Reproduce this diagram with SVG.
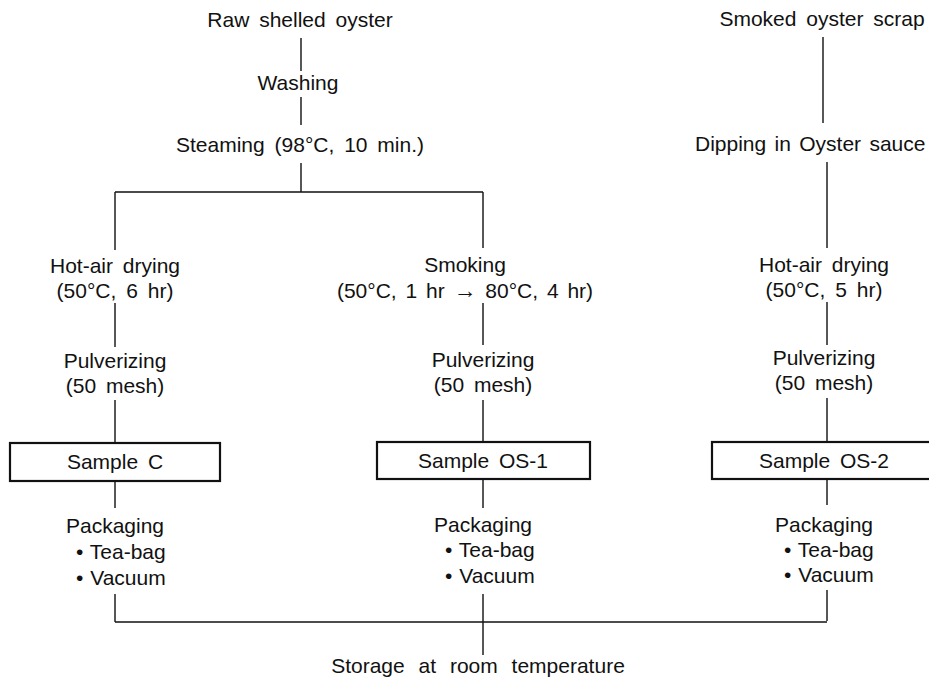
<svg xmlns="http://www.w3.org/2000/svg" width="929" height="679" viewBox="0 0 929 679">
<style>
text{font-family:"Liberation Sans",Arial,sans-serif;font-size:21px;fill:#111;word-spacing:4px}
.c{text-anchor:middle}
.b{word-spacing:1px}
.box{fill:#fff;stroke:#111;stroke-width:2.2}
.ln{stroke:#111;stroke-width:1.4;fill:none}
</style>
<rect width="929" height="679" fill="#fff"/>
<g id="connectors" class="ln">
<path d="M301 38V71M301 97V125M301 163V192M115 192H483M115 192V250M483 192V248"/>
<path d="M115 303V347M115 400V443M115 481V508M115 594V622"/>
<path d="M483 303V345M483 400V442M483 479V508M483 594V655"/>
<path d="M823 37V123M827 162V248M827 302V345M827 398V442M827 479V505M827 590V621"/>
<path d="M115 622H827"/>
</g>
<g id="raw"><text class="c" x="300" y="27">Raw shelled oyster</text></g>
<g id="washing"><text class="c" x="298" y="90">Washing</text></g>
<g id="steaming"><text class="c" x="300" y="152">Steaming (98°C, 10 min.)</text></g>
<g id="hotair1"><text class="c" x="115" y="273">Hot-air drying</text><text class="c" x="115" y="298">(50°C, 6 hr)</text></g>
<g id="smoking"><text class="c" x="465" y="272">Smoking</text><text class="c" x="465" y="298" style="word-spacing:3px">(50°C, 1 hr <tspan font-size="23">→</tspan> 80°C, 4 hr)</text></g>
<g id="scrap"><text class="c" x="822" y="26">Smoked oyster scrap</text></g>
<g id="dipping"><text x="695" y="151" style="word-spacing:2.5px">Dipping in Oyster sauce</text></g>
<g id="hotair3"><text class="c" x="824" y="272">Hot-air drying</text><text class="c" x="824" y="297">(50°C, 5 hr)</text></g>
<g id="pulv1"><text class="c" x="115" y="368">Pulverizing</text><text class="c" x="115" y="393">(50 mesh)</text></g>
<g id="pulv2"><text class="c" x="483" y="367">Pulverizing</text><text class="c" x="483" y="392">(50 mesh)</text></g>
<g id="pulv3"><text class="c" x="824" y="365">Pulverizing</text><text class="c" x="824" y="390">(50 mesh)</text></g>
<g id="sampleC"><rect class="box" x="10" y="443" width="210" height="38"/><text class="c" x="115" y="469">Sample C</text></g>
<g id="sampleOS1"><rect class="box" x="377" y="442" width="213" height="37"/><text class="c" x="483" y="468">Sample OS-1</text></g>
<g id="sampleOS2"><rect class="box" x="712" y="442" width="224" height="37"/><text class="c" x="824" y="468">Sample OS-2</text></g>
<g id="pack1"><text class="c" x="115" y="533">Packaging</text><text class="b" x="76" y="559">• Tea-bag</text><text class="b" x="76" y="585">• Vacuum</text></g>
<g id="pack2"><text class="c" x="483" y="532">Packaging</text><text class="b" x="445" y="557">• Tea-bag</text><text class="b" x="445" y="583">• Vacuum</text></g>
<g id="pack3"><text class="c" x="824" y="532">Packaging</text><text class="b" x="784" y="557">• Tea-bag</text><text class="b" x="784" y="582">• Vacuum</text></g>
<g id="storage"><text class="c" x="478" y="673" style="word-spacing:8px">Storage at room temperature</text></g>
</svg>
